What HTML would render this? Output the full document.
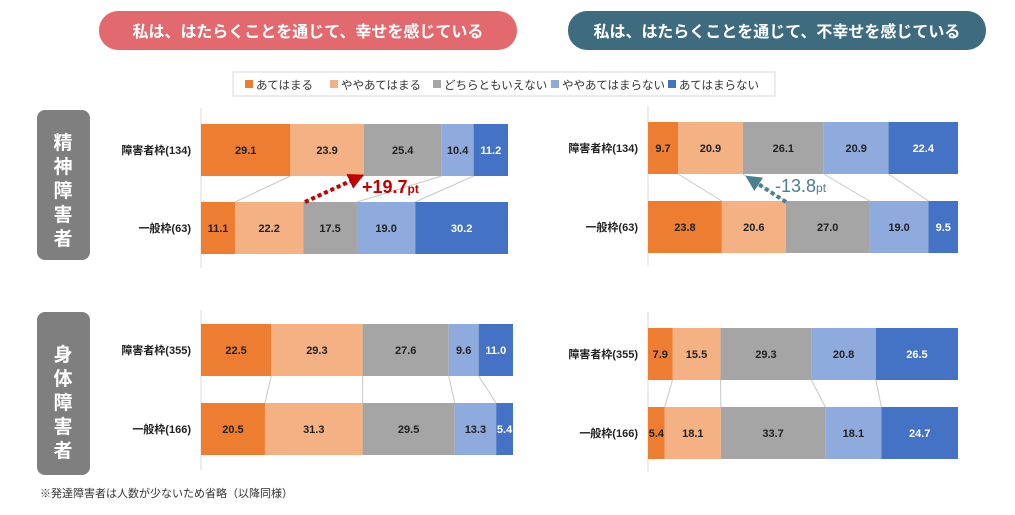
<!DOCTYPE html>
<html><head><meta charset="utf-8"><style>
body{margin:0;width:1015px;height:510px;background:#fff;overflow:hidden;font-family:"Liberation Sans","Noto Sans CJK JP",sans-serif}
</style></head><body>
<svg id="c" width="1015" height="510" xmlns="http://www.w3.org/2000/svg" font-family="Liberation Sans, Noto Sans CJK JP, sans-serif">
<rect x="99" y="11" width="418" height="39" rx="19" fill="#e2696d"/>
<text x="308" y="37" text-anchor="middle" fill="#fff" font-size="16" font-weight="bold">私は、はたらくことを通じて、幸せを感じている</text>
<rect x="568" y="11" width="418" height="39" rx="19" fill="#3e6c7e"/>
<text x="777" y="37" text-anchor="middle" fill="#fff" font-size="16" font-weight="bold">私は、はたらくことを通じて、不幸せを感じている</text>
<rect x="233" y="72" width="542" height="24" fill="#fff" stroke="#d9d9d9"/>
<g id="legend"></g>
<rect x="37" y="110" width="53" height="150" rx="8" fill="#7f7f7f"/>
<g fill="#fff" font-size="19" font-weight="bold" text-anchor="middle">
<text x="63" y="149">精</text><text x="63" y="173">神</text><text x="63" y="197">障</text><text x="63" y="221">害</text><text x="63" y="245">者</text>
</g>
<rect x="37" y="312" width="53" height="163" rx="8" fill="#7f7f7f"/>
<g fill="#fff" font-size="19" font-weight="bold" text-anchor="middle">
<text x="63" y="361">身</text><text x="63" y="385">体</text><text x="63" y="409">障</text><text x="63" y="433">害</text><text x="63" y="457">者</text>
</g>
<text x="40" y="497" font-size="11" fill="#333">※発達障害者は人数が少ないため省略（以降同様）</text>
<g id="plots"></g>
<g id="ann"></g>
</svg>
<script>
const categories=["あてはまる","ややあてはまる","どちらともいえない","ややあてはまらない","あてはまらない"];
const colors=["#ed7d31","#f4b183","#a5a5a5","#8faadc","#4472c4"];
const rowLabels=[["障害者枠(134)","一般枠(63)"],["障害者枠(355)","一般枠(166)"],["障害者枠(134)","一般枠(63)"],["障害者枠(355)","一般枠(166)"]];
const happyMental=[[29.1,23.9,25.4,10.4,11.2],[11.1,22.2,17.5,19.0,30.2]];
const happyPhysical=[[22.5,29.3,27.6,9.6,11.0],[20.5,31.3,29.5,13.3,5.4]];
const unhappyMental=[[9.7,20.9,26.1,20.9,22.4],[23.8,20.6,27.0,19.0,9.5]];
const unhappyPhysical=[[7.9,15.5,29.3,20.8,26.5],[5.4,18.1,33.7,18.1,24.7]];
const NS="http://www.w3.org/2000/svg";
function mk(t,a,p){const e=document.createElementNS(NS,t);for(const k in a)e.setAttribute(k,a[k]);p.appendChild(e);return e;}
const lg=document.getElementById('legend');const lx=[245,330,433,551,668];
categories.forEach((c,i)=>{const r=mk('rect',{x:lx[i],y:80,width:8,height:8,fill:colors[i]},lg);


const t=mk('text',{x:lx[i]+11,y:89,'font-size':11.5,fill:'#333'},lg);t.textContent=c;

});
const panels=[{d:happyMental,x0:201,w:307,y:[124,202],lab:rowLabels[0],top:108,bot:268},
{d:happyPhysical,x0:201,w:312,y:[324,403],lab:rowLabels[1],top:310,bot:470},
{d:unhappyMental,x0:648,w:310,y:[122,201],lab:rowLabels[2],top:106,bot:266},
{d:unhappyPhysical,x0:648,w:310,y:[328,407],lab:rowLabels[3],top:312,bot:472}];
const pg=document.getElementById('plots');const H=52;
panels.forEach((p,pi)=>{
 const g=mk('g',{},pg);
 
 
 mk('line',{x1:p.x0,x2:p.x0,y1:p.top,y2:p.bot,stroke:'#d9d9d9'},g);
 const xs=p.d.map(r=>{const s=r.reduce((a,b)=>a+b,0);let acc=0;return r.map(v=>{const a=acc;acc+=v;return [p.x0+a/s*p.w,v/s*p.w];});});
 for(let i=1;i<5;i++){mk('line',{x1:xs[0][i][0],y1:p.y[0]+H,x2:xs[1][i][0],y2:p.y[1],stroke:'#c8c8c8','stroke-width':1},g);}
 p.d.forEach((r,ri)=>{
  const t=mk('text',{x:p.x0-10,y:p.y[ri]+H/2+4,'text-anchor':'end','font-size':11,'font-weight':'bold',fill:'#222'},g);t.textContent=p.lab[ri];
  
  
  r.forEach((v,i)=>{const[x,w]=xs[ri][i];
   const b=mk('rect',{x:x,y:p.y[ri],width:w,height:H,fill:colors[i]},g);
   
   
   const l=mk('text',{x:x+w/2,y:p.y[ri]+H/2+4,'text-anchor':'middle','font-size':11,'font-weight':'bold',fill:i==4?'#fff':'#222'},g);l.textContent=v.toFixed(1);
   
   });
 });
});
const an=document.getElementById('ann');
mk('defs',{},an).innerHTML='<marker id="ar" markerWidth="4" markerHeight="4" refX="2" refY="2" orient="auto"><path d="M0,0L4,2L0,4z" fill="#c00000"/></marker><marker id="ab" markerWidth="4" markerHeight="4" refX="2" refY="2" orient="auto"><path d="M0,0L4,2L0,4z" fill="#4a7f8f"/></marker>';
mk('line',{x1:305,y1:202,x2:357,y2:178,stroke:'#c00000','stroke-width':4,'stroke-dasharray':'4 3','marker-end':'url(#ar)'},an);
let t=mk('text',{x:362,y:193,'font-size':18,'font-weight':'bold',fill:'#c00000'},an);t.innerHTML='+19.7<tspan font-size="12">pt</tspan>';

mk('line',{x1:786,y1:202,x2:752,y2:180,stroke:'#4a7f8f','stroke-width':4,'stroke-dasharray':'4 3','marker-end':'url(#ab)'},an);
t=mk('text',{x:775,y:192,'font-size':18,fill:'#4a7f8f'},an);t.innerHTML='-13.8<tspan font-size="12">pt</tspan>';

</script>
</body></html>
